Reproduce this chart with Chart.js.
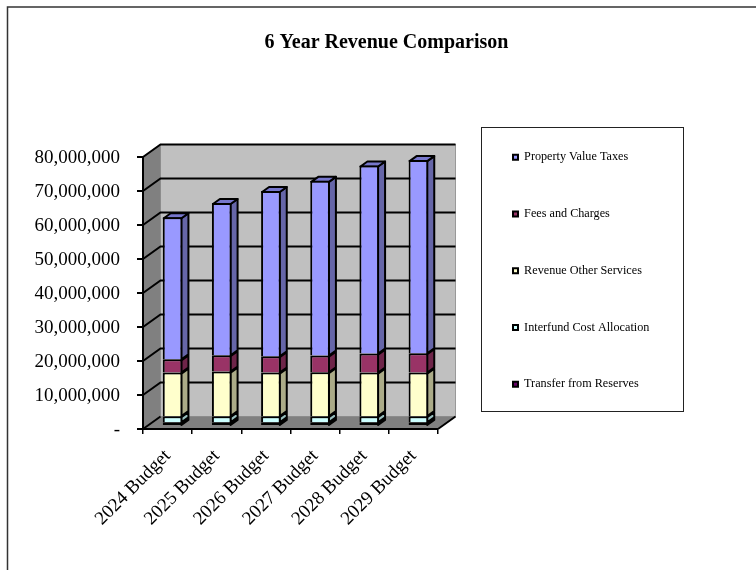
<!DOCTYPE html>
<html>
<head>
<meta charset="utf-8">
<style>html,body{margin:0;padding:0;background:#fff}#wrap{width:756px;height:570px}canvas{display:block}</style>
<script src="https://cdn.jsdelivr.net/npm/chart.js@4/dist/chart.umd.min.js"></script>
</head>
<body>
<div id="wrap"><canvas id="c" width="756" height="570"></canvas></div>
<script>
const categories = ['2024 Budget','2025 Budget','2026 Budget','2027 Budget','2028 Budget','2029 Budget'];
const transferFromReserves = [1100000,1100000,1100000,1100000,1100000,1100000];
const interfundCostAllocation = [1800000,1800000,1800000,1800000,1800000,1800000];
const revenueOtherServices = [12800000,13100000,12800000,12900000,12800000,12800000];
const feesAndCharges = [3900000,4800000,4800000,4900000,5600000,5700000];
const propertyValueTaxes = [41800000,44800000,48600000,51400000,55300000,56800000];
const titleText = '6 Year Revenue Comparison';
const FONT = '"Liberation Serif"';
const WALL = {dx:17.5, dy:-12.5};
const BAR = {shiftX:5, shiftY:-3, dx:7, dy:-5};

const threeD = {
  id:'threeD',
  afterLayout(chart){
    const l = chart.legend, t = chart.titleBlock;
    const pad = l.options.labels.padding;
    l.left = 513 - pad; l.right = 740; l.top = 151.2 - pad; l.bottom = 570;
    t.left = 0; t.right = 773;
    chart.scales.y.getLabelItems().forEach(i=>{i.options.translation[1]+=1.5;});
    chart.scales.x.getLabelItems().forEach(i=>{i.options.translation[1]+=5;});
  },
  beforeDraw(chart){
    const ctx = chart.ctx, a = chart.chartArea, y = chart.scales.y;
    ctx.save();
    ctx.fillStyle='#fff'; ctx.fillRect(0,0,756,570);
    ctx.strokeStyle='#333'; ctx.lineWidth=1.5;
    ctx.beginPath(); ctx.moveTo(7.5,570); ctx.lineTo(7.5,7); ctx.lineTo(756,7); ctx.stroke();
    ctx.strokeStyle='#222'; ctx.lineWidth=1;
    ctx.strokeRect(481.5,127.5,202,284);
    const {dx,dy} = WALL, L=a.left, R=a.right, T=a.top, B=a.bottom;
    ctx.fillStyle='#C0C0C0'; ctx.fillRect(L+dx,T+dy,R-L,B-T);
    ctx.strokeStyle='#999'; ctx.lineWidth=1; ctx.strokeRect(L+dx,T+dy,R-L,B-T);
    ctx.fillStyle='#808080';
    ctx.beginPath(); ctx.moveTo(L,T); ctx.lineTo(L+dx,T+dy); ctx.lineTo(L+dx,B+dy); ctx.lineTo(L,B); ctx.closePath(); ctx.fill();
    ctx.beginPath(); ctx.moveTo(L,B); ctx.lineTo(L+dx,B+dy); ctx.lineTo(R+dx,B+dy); ctx.lineTo(R,B); ctx.closePath(); ctx.fill();
    ctx.strokeStyle='#000'; ctx.lineWidth=2;
    y.ticks.forEach(tk=>{
      const p = y.getPixelForValue(tk.value);
      ctx.beginPath(); ctx.moveTo(L,p); ctx.lineTo(L+dx,p+dy);
      if(tk.value!==0) ctx.lineTo(R+dx,p+dy);
      ctx.stroke();
    });
    ctx.beginPath(); ctx.moveTo(R,B); ctx.lineTo(R+dx,B+dy); ctx.stroke();
    ctx.restore();
  },
  beforeDatasetsDraw(chart){
    const ctx = chart.ctx, {dx,dy,shiftX,shiftY} = BAR;
    ctx.save();
    ctx.translate(shiftX,shiftY);
    const n = chart.data.datasets.length;
    chart.data.datasets.forEach((ds,i)=>{
      chart.getDatasetMeta(i).data.forEach(el=>{
        const r = el.x+el.width/2-1, l = el.x-el.width/2+1, t = el.y+1;
        ctx.strokeStyle='#000'; ctx.lineWidth=2; ctx.lineJoin='round';
        ctx.fillStyle = ds.sideColor;
        ctx.beginPath(); ctx.moveTo(r,el.base); ctx.lineTo(r+dx,el.base+dy); ctx.lineTo(r+dx,t+dy); ctx.lineTo(r,t); ctx.closePath();
        ctx.fill(); ctx.stroke();
        if(i===n-1){
          ctx.fillStyle = ds.topColor;
          ctx.beginPath(); ctx.moveTo(l,t); ctx.lineTo(l+dx,t+dy); ctx.lineTo(r+dx,t+dy); ctx.lineTo(r,t); ctx.closePath();
          ctx.fill(); ctx.stroke();
        }
      });
    });
  },
  afterDatasetsDraw(chart){ chart.ctx.restore(); }
};

const mk = (label,data,bg,side,top,skip)=>({label,data,backgroundColor:bg,sideColor:side,topColor:top,borderColor:'#000',borderWidth:2,borderSkipped:skip,clip:false,categoryPercentage:1,barPercentage:0.4});

new Chart(document.getElementById('c'),{
  type:'bar',
  plugins:[threeD],
  data:{labels:categories,datasets:[
    mk('Transfer from Reserves',transferFromReserves,'#660066','#4D004D','#55005A',false),
    mk('Interfund Cost Allocation',interfundCostAllocation,'#CCFFFF','#99BFBF','#AADDDD','bottom'),
    mk('Revenue Other Services',revenueOtherServices,'#FFFFCC','#ABAB88','#DDDDAA','bottom'),
    mk('Fees and Charges',feesAndCharges,'#993366','#6E2549','#802B55','bottom'),
    mk('Property Value Taxes',propertyValueTaxes,'#9999FF','#6666A8','#7777CC','bottom')
  ]},
  options:{
    responsive:false,animation:false,
    layout:{padding:{left:0,top:0,right:218,bottom:0}},
    plugins:{
      tooltip:{enabled:false},
      title:{display:true,text:titleText,color:'#000',font:{family:FONT,size:20,weight:'bold'},padding:{top:30.5,bottom:102.5}},
      legend:{display:true,position:'right',align:'start',reverse:true,maxWidth:100,
        labels:{color:'#000',font:{family:FONT,size:12.2},boxWidth:5,boxHeight:5,padding:44.55}}
    },
    scales:{
      x:{stacked:true,
        afterFit(s){s.height=141;},
        grid:{drawOnChartArea:false,drawTicks:true,tickLength:5,color:'#000',lineWidth:1.5,offset:true},
        border:{color:'#000',width:2},
        ticks:{color:'#000',font:{family:FONT,size:19},minRotation:45,maxRotation:45,autoSkip:false,padding:6}
      },
      y:{stacked:true,min:0,max:80000000,
        afterFit(s){s.width=143;},
        grid:{drawOnChartArea:false,drawTicks:true,tickLength:6,color:'#000',lineWidth:2},
        border:{color:'#000',width:2},
        ticks:{color:'#000',stepSize:10000000,padding:17,font:{family:FONT,size:19},
          callback:v=>v===0?'-':v.toLocaleString('en-US')}
      }
    }
  }
});
</script>
</body>
</html>
